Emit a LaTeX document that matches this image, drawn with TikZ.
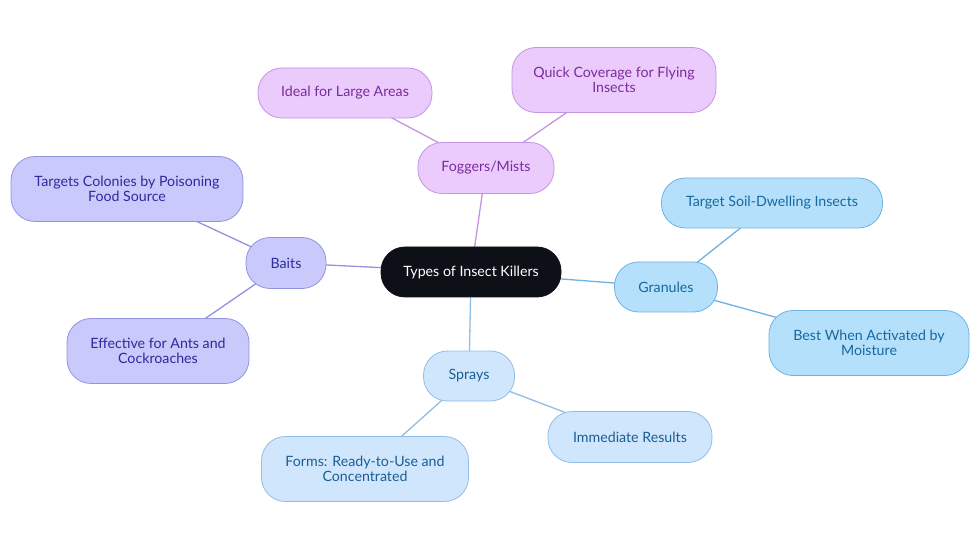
\documentclass[tikz,border=0pt]{standalone}
\usepackage{fontspec}
\setmainfont{Lato}
\definecolor{rootfill}{HTML}{0D1117}
\definecolor{pfill}{HTML}{EACBFC}
\definecolor{pdraw}{HTML}{C594E3}
\definecolor{ptext}{HTML}{7B2C9C}
\definecolor{bfill}{HTML}{C9C9FB}
\definecolor{bdraw}{HTML}{9393E0}
\definecolor{btext}{HTML}{2B2B9C}
\definecolor{gfill}{HTML}{B5E0FC}
\definecolor{gdraw}{HTML}{6CB3E3}
\definecolor{gtext}{HTML}{17689E}
\definecolor{sfill}{HTML}{D0E6FC}
\definecolor{sdraw}{HTML}{90BEE6}
\definecolor{stext}{HTML}{1B5E92}
\pgfdeclarelayer{bg}
\pgfsetlayers{bg,main}
\begin{document}
\begin{tikzpicture}[x=1pt,y=-1pt,
  box/.style={rounded corners=24pt, align=center, inner sep=0pt, font=\fontsize{14.2pt}{15.5pt}\selectfont, line width=0.8pt},
  rootbox/.style={box, fill=rootfill, draw=rootfill, text=white},
  pbox/.style={box, fill=pfill, draw=pdraw, text=ptext},
  bbox/.style={box, fill=bfill, draw=bdraw, text=btext},
  gbox/.style={box, fill=gfill, draw=gdraw, text=gtext},
  sbox/.style={box, fill=sfill, draw=sdraw, text=stext},
  pline/.style={draw=pdraw, line width=1.3pt},
  bline/.style={draw=bdraw, line width=1.3pt},
  gline/.style={draw=gdraw, line width=1.3pt},
  sline/.style={draw=sdraw, line width=1.3pt},
]
\useasboundingbox (0,0) rectangle (980,553);

\node[rootbox, minimum width=180pt, minimum height=50pt] (root) at (471,272) {Types of Insect Killers};
\node[pbox, minimum width=136pt, minimum height=51pt] (fog) at (486,168) {Foggers/Mists};
\node[pbox, minimum width=174pt, minimum height=50pt] (ideal) at (345,93) {Ideal for Large Areas};
\node[pbox, minimum width=204pt, minimum height=65pt] (quick) at (614,80) {Quick Coverage for Flying\\Insects};
\node[bbox, minimum width=80pt, minimum height=51pt] (baits) at (286,263) {Baits};
\node[bbox, minimum width=232pt, minimum height=65pt] (targets) at (127,189) {Targets Colonies by Poisoning\\Food Source};
\node[bbox, minimum width=182pt, minimum height=65pt] (effective) at (158,351) {Effective for Ants and\\Cockroaches};
\node[gbox, minimum width=103pt, minimum height=50pt] (gran) at (666,287) {Granules};
\node[gbox, minimum width=221pt, minimum height=50pt] (soil) at (772,203) {Target Soil-Dwelling Insects};
\node[gbox, minimum width=200pt, minimum height=65pt] (best) at (869,343) {Best When Activated by\\Moisture};
\node[sbox, minimum width=91pt, minimum height=50pt] (spray) at (469,376) {Sprays};
\node[sbox, minimum width=164pt, minimum height=51pt] (immed) at (630,437) {Immediate Results};
\node[sbox, minimum width=207pt, minimum height=65pt] (forms) at (365,469) {Forms: Ready-to-Use and\\Concentrated};

\begin{pgfonlayer}{bg}
\fill[white] (0,0) rectangle (980,553);
\draw[pline] (root.center) -- (fog.center);
\draw[pline] (fog.center) -- (ideal.center);
\draw[pline] (fog.center) -- (quick.center);
\draw[bline] (root.center) -- (baits.center);
\draw[bline] (baits.center) -- (targets.center);
\draw[bline] (baits.center) -- (effective.center);
\draw[gline] (root.center) -- (gran.center);
\draw[gline] (gran.center) -- (soil.center);
\draw[gline] (gran.center) -- (best.center);
\draw[sline] (root.center) -- (spray.center);
\draw[sline] (spray.center) -- (immed.center);
\draw[sline] (spray.center) -- (forms.center);
\end{pgfonlayer}
\end{tikzpicture}
\end{document}
